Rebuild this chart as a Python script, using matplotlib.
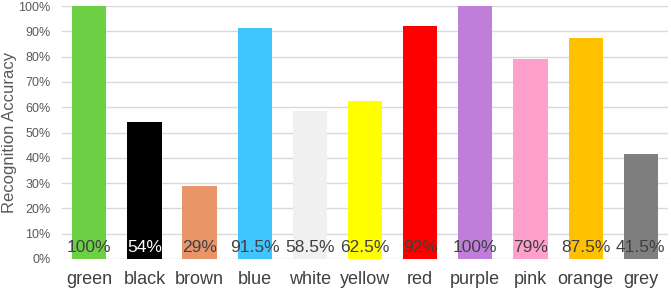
import matplotlib.pyplot as plt
from matplotlib.ticker import PercentFormatter

colors_names = ["green", "black", "brown", "blue", "white", "yellow",
                "red", "purple", "pink", "orange", "grey"]
accuracy = [100, 54, 29, 91.5, 58.5, 62.5, 92, 100, 79, 87.5, 41.5]
value_labels = ["100%", "54%", "29%", "91.5%", "58.5%", "62.5%",
                "92%", "100%", "79%", "87.5%", "41.5%"]
bar_colors = ["#6dcf44", "#000000", "#e9956a", "#41c5ff", "#f0f0f0", "#ffff00",
              "#ff0000", "#c07edb", "#ff9fcb", "#ffc000", "#7f7f7f"]


def main():
    plt.rcParams["font.family"] = ["Liberation Sans", "DejaVu Sans"]
    fig = plt.figure(figsize=(6.71, 2.91), dpi=100)
    ax = fig.add_axes([0.092, 0.11, 0.904, 0.869])

    x = range(len(colors_names))
    ax.bar(x, accuracy, width=0.62, color=bar_colors, zorder=2)

    for i, lab in enumerate(value_labels):
        c = "white" if colors_names[i] == "black" else "#404040"
        ax.text(i, 4.6, lab, ha="center", va="center", fontsize=12.5, color=c, zorder=3)

    ax.set_xlim(-0.5, len(colors_names) - 0.5)
    ax.set_ylim(0, 100)
    ax.set_yticks(range(0, 101, 10))
    ax.yaxis.set_major_formatter(PercentFormatter(decimals=0))
    ax.grid(axis="y", color="#d9d9d9", linewidth=1, zorder=0)
    ax.set_xticks(list(x))
    ax.set_xticklabels(colors_names, fontsize=13, color="#404040")
    ax.tick_params(axis="y", labelsize=9, colors="#595959", length=0, pad=8)
    ax.tick_params(axis="x", length=0, pad=9)
    for s in ax.spines.values():
        s.set_visible(False)

    fig.text(0.003, 0.545, "Recognition Accuracy", rotation=90, ha="left", va="center",
             fontsize=12, color="#595959")

    fig.savefig("out.png", dpi=100)
    plt.close(fig)


if __name__ == "__main__":
    main()
